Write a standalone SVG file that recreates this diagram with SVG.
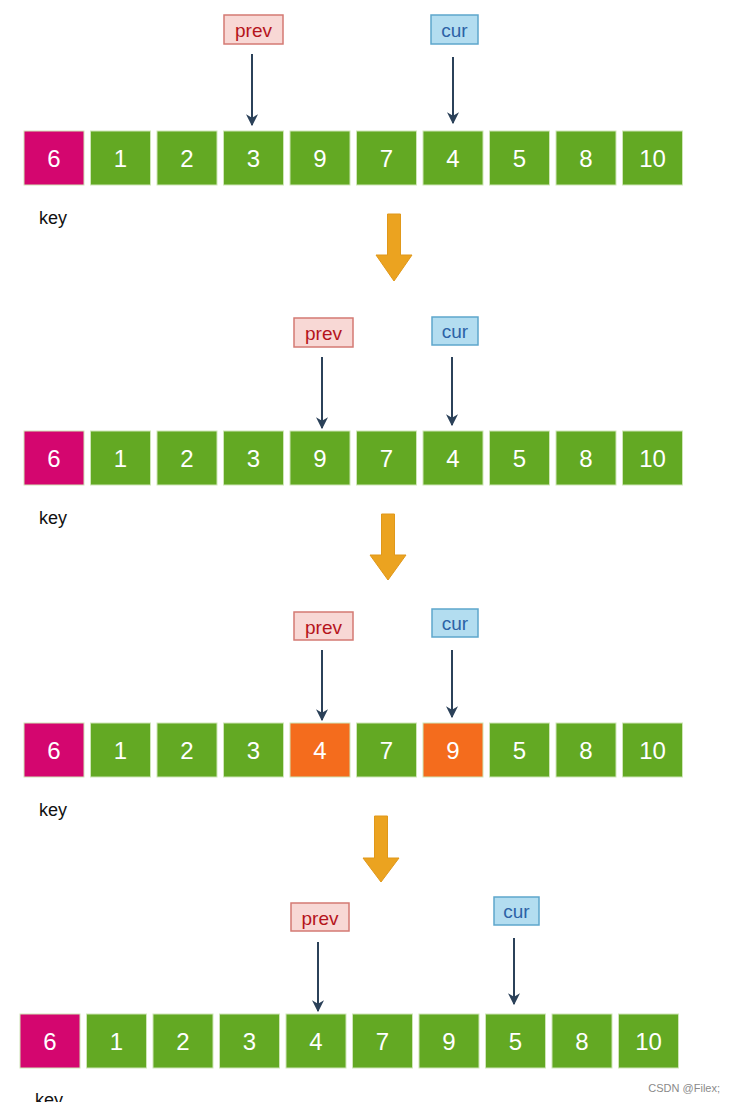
<svg xmlns="http://www.w3.org/2000/svg" width="735" height="1102" viewBox="0 0 735 1102">
<defs>
<marker id="ah" viewBox="0 0 10 10" refX="9" refY="5" markerWidth="6" markerHeight="6" orient="auto" markerUnits="strokeWidth">
<path d="M0,0 L10,5 L0,10 L3,5 Z" fill="#2B4159"/>
</marker>
<style>
.c{stroke:#CFE6B8;stroke-width:1}
.g{fill:#63A923}
.k{fill:#D4066F}
.o{fill:#F46C1D}
.n{font-family:"Liberation Sans",Arial,sans-serif;font-size:24px;fill:#FFFFFF;text-anchor:middle}
.key{font-family:"Liberation Sans",Arial,sans-serif;font-size:18px;fill:#111}
.pb{fill:#F8D8D5;stroke:#D47A73;stroke-width:1.5}
.pt{font-family:"Liberation Sans",Arial,sans-serif;font-size:19px;fill:#B5141C;text-anchor:middle}
.cb{fill:#B3DDF0;stroke:#5EA6CC;stroke-width:1.5}
.ct{font-family:"Liberation Sans",Arial,sans-serif;font-size:19px;fill:#2C62A6;text-anchor:middle}
.ar{stroke:#2B4159;stroke-width:2;fill:none;marker-end:url(#ah)}
.big{fill:#EBA320;stroke:#E0981A;stroke-width:1}
</style>
</defs>
<rect width="735" height="1102" fill="#FFFFFF"/>

<!-- Row 1 -->
<g id="row1">
<rect class="c k" x="24" y="131" width="60" height="54"/><text class="n" x="54" y="167">6</text>
<rect class="c g" x="90.5" y="131" width="60" height="54"/><text class="n" x="120.5" y="167">1</text>
<rect class="c g" x="157" y="131" width="60" height="54"/><text class="n" x="187" y="167">2</text>
<rect class="c g" x="223.5" y="131" width="60" height="54"/><text class="n" x="253.5" y="167">3</text>
<rect class="c g" x="290" y="131" width="60" height="54"/><text class="n" x="320" y="167">9</text>
<rect class="c g" x="356.5" y="131" width="60" height="54"/><text class="n" x="386.5" y="167">7</text>
<rect class="c g" x="423" y="131" width="60" height="54"/><text class="n" x="453" y="167">4</text>
<rect class="c g" x="489.5" y="131" width="60" height="54"/><text class="n" x="519.5" y="167">5</text>
<rect class="c g" x="556" y="131" width="60" height="54"/><text class="n" x="586" y="167">8</text>
<rect class="c g" x="622.5" y="131" width="60" height="54"/><text class="n" x="652.5" y="167">10</text>
<text class="key" x="39" y="224">key</text>
</g>
<g id="prev1"><rect class="pb" x="224" y="15" width="59" height="29"/><text class="pt" x="253.5" y="37">prev</text></g>
<g id="cur1"><rect class="cb" x="431" y="15" width="47" height="29"/><text class="ct" x="454.5" y="37">cur</text></g>

<!-- Row 2 -->
<g id="row2">
<rect class="c k" x="24" y="431" width="60" height="54"/><text class="n" x="54" y="467">6</text>
<rect class="c g" x="90.5" y="431" width="60" height="54"/><text class="n" x="120.5" y="467">1</text>
<rect class="c g" x="157" y="431" width="60" height="54"/><text class="n" x="187" y="467">2</text>
<rect class="c g" x="223.5" y="431" width="60" height="54"/><text class="n" x="253.5" y="467">3</text>
<rect class="c g" x="290" y="431" width="60" height="54"/><text class="n" x="320" y="467">9</text>
<rect class="c g" x="356.5" y="431" width="60" height="54"/><text class="n" x="386.5" y="467">7</text>
<rect class="c g" x="423" y="431" width="60" height="54"/><text class="n" x="453" y="467">4</text>
<rect class="c g" x="489.5" y="431" width="60" height="54"/><text class="n" x="519.5" y="467">5</text>
<rect class="c g" x="556" y="431" width="60" height="54"/><text class="n" x="586" y="467">8</text>
<rect class="c g" x="622.5" y="431" width="60" height="54"/><text class="n" x="652.5" y="467">10</text>
<text class="key" x="39" y="524">key</text>
</g>
<g id="prev2"><rect class="pb" x="294" y="318" width="59" height="29"/><text class="pt" x="323.5" y="340">prev</text></g>
<g id="cur2"><rect class="cb" x="432" y="317" width="46" height="28"/><text class="ct" x="455" y="338">cur</text></g>

<!-- Row 3 -->
<g id="row3">
<rect class="c k" x="24" y="723" width="60" height="54"/><text class="n" x="54" y="759">6</text>
<rect class="c g" x="90.5" y="723" width="60" height="54"/><text class="n" x="120.5" y="759">1</text>
<rect class="c g" x="157" y="723" width="60" height="54"/><text class="n" x="187" y="759">2</text>
<rect class="c g" x="223.5" y="723" width="60" height="54"/><text class="n" x="253.5" y="759">3</text>
<rect class="c o" x="290" y="723" width="60" height="54"/><text class="n" x="320" y="759">4</text>
<rect class="c g" x="356.5" y="723" width="60" height="54"/><text class="n" x="386.5" y="759">7</text>
<rect class="c o" x="423" y="723" width="60" height="54"/><text class="n" x="453" y="759">9</text>
<rect class="c g" x="489.5" y="723" width="60" height="54"/><text class="n" x="519.5" y="759">5</text>
<rect class="c g" x="556" y="723" width="60" height="54"/><text class="n" x="586" y="759">8</text>
<rect class="c g" x="622.5" y="723" width="60" height="54"/><text class="n" x="652.5" y="759">10</text>
<text class="key" x="39" y="816">key</text>
</g>
<g id="prev3"><rect class="pb" x="294" y="612" width="59" height="28"/><text class="pt" x="323.5" y="634">prev</text></g>
<g id="cur3"><rect class="cb" x="432" y="609" width="46" height="28"/><text class="ct" x="455" y="630">cur</text></g>

<!-- Row 4 -->
<g id="row4">
<rect class="c k" x="20" y="1014" width="60" height="54"/><text class="n" x="50" y="1050">6</text>
<rect class="c g" x="86.5" y="1014" width="60" height="54"/><text class="n" x="116.5" y="1050">1</text>
<rect class="c g" x="153" y="1014" width="60" height="54"/><text class="n" x="183" y="1050">2</text>
<rect class="c g" x="219.5" y="1014" width="60" height="54"/><text class="n" x="249.5" y="1050">3</text>
<rect class="c g" x="286" y="1014" width="60" height="54"/><text class="n" x="316" y="1050">4</text>
<rect class="c g" x="352.5" y="1014" width="60" height="54"/><text class="n" x="382.5" y="1050">7</text>
<rect class="c g" x="419" y="1014" width="60" height="54"/><text class="n" x="449" y="1050">9</text>
<rect class="c g" x="485.5" y="1014" width="60" height="54"/><text class="n" x="515.5" y="1050">5</text>
<rect class="c g" x="552" y="1014" width="60" height="54"/><text class="n" x="582" y="1050">8</text>
<rect class="c g" x="618.5" y="1014" width="60" height="54"/><text class="n" x="648.5" y="1050">10</text>
<text class="key" x="35" y="1106">key</text>
</g>
<g id="prev4"><rect class="pb" x="291" y="903" width="58" height="28"/><text class="pt" x="320" y="925">prev</text></g>
<g id="cur4"><rect class="cb" x="494" y="897" width="45" height="28"/><text class="ct" x="516.5" y="918">cur</text></g>

<g id="connectors">
<line class="ar" x1="252" y1="54" x2="252" y2="125"/>
<line class="ar" x1="453" y1="57" x2="453" y2="123"/>
<line class="ar" x1="322" y1="357" x2="322" y2="428"/>
<line class="ar" x1="452" y1="357" x2="452" y2="425"/>
<line class="ar" x1="322" y1="650" x2="322" y2="720"/>
<line class="ar" x1="452" y1="650" x2="452" y2="717"/>
<line class="ar" x1="318" y1="942" x2="318" y2="1011"/>
<line class="ar" x1="514" y1="938" x2="514" y2="1004"/>
</g>

<g id="steps">
<polygon class="big" points="387.5,214 400.5,214 400.5,255 412,255 394,281 376,255 387.5,255"/>
<polygon class="big" points="381.5,514 394.5,514 394.5,555 406,555 388,580 370,555 381.5,555"/>
<polygon class="big" points="374.5,816 387.5,816 387.5,858 399,858 381,882 363,858 374.5,858"/>
</g>

<text x="720" y="1092" font-family="Liberation Sans, Arial, sans-serif" font-size="11" fill="#8A8A8A" text-anchor="end">CSDN @Filex;</text>
</svg>
